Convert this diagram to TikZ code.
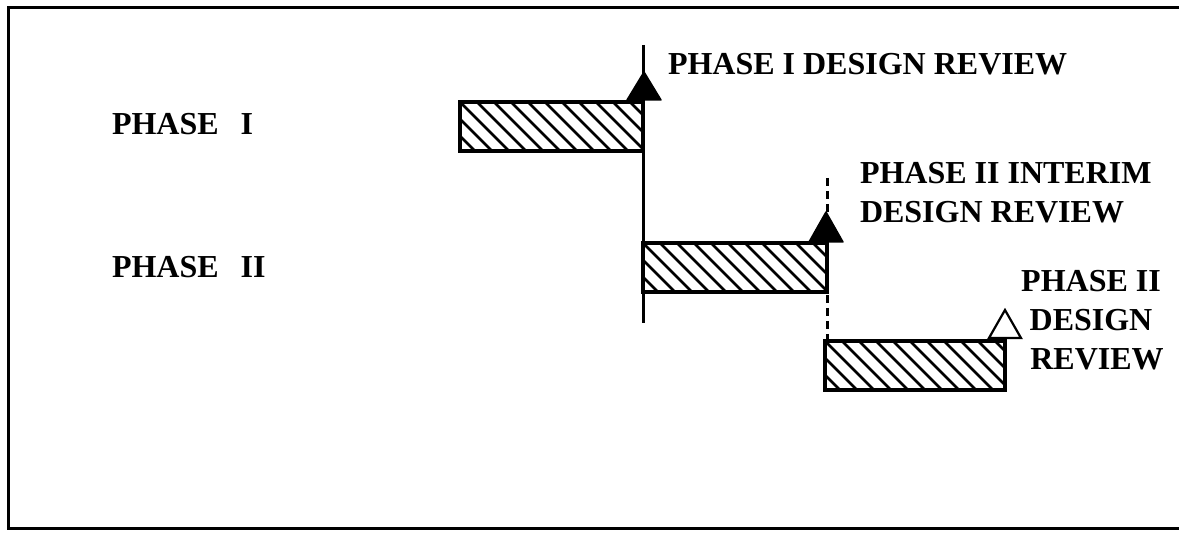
\documentclass[tikz,border=0pt]{standalone}
\usepackage{fontspec}
\setmainfont{Liberation Serif}
\begin{document}
\begin{tikzpicture}[x=1pt,y=-1pt,
  lbl/.style={font=\bfseries\fontsize{32}{39}\selectfont, inner sep=0pt, outer sep=0pt},
  hatchbar/.style={draw, line width=3.5pt, inner sep=0pt, outer sep=0pt,
    anchor=north west, minimum height=49pt,
    path picture={
      \foreach \k in {-4,...,12}
        \draw[line width=2.8pt]
          ([xshift=\k*17pt]path picture bounding box.north west) -- ++(70,70);
    }},
  mileline/.style={line width=3pt},
  solidtri/.style={fill=black, draw=black, line width=1.5pt, line join=round},
  opentri/.style={fill=white, draw=black, line width=2.2pt, line join=miter},
  frame/.style={line width=3pt}]
  \useasboundingbox (0,0) rectangle (1179,537);
  \fill[white] (0,0) rectangle (1179,537);

  % outer frame (open on the right)
  \draw[frame] (1179,8) -- (8,8) -- (8,528) -- (1179,528);

  % phase labels
  \node[lbl, anchor=base west] (ph1) at (112,135) {PHASE\hspace{22pt}I};
  \node[lbl, anchor=base west] (ph2) at (112,278) {PHASE\hspace{22pt}II};

  % schedule bars
  \node[hatchbar, minimum width=183pt] (bar1) at (460,102) {};
  \node[hatchbar, minimum width=184pt] (bar2) at (643,243) {};
  \node[hatchbar, minimum width=180pt] (bar3) at (825,341) {};

  % milestone lines
  \coordinate (m1top) at (643,45);
  \coordinate (m1bot) at (643,323);
  \draw[mileline] (m1top) -- (m1bot);
  \coordinate (m2top) at (827,178);
  \draw[mileline, dash pattern=on 8pt off 5pt] (m2top) -- (m2top |- bar3.north);

  % review markers
  \coordinate (t1) at (644,100);
  \coordinate (t2) at (826,242);
  \coordinate (t3) at (1005,338);
  \draw[solidtri] (t1) ++(-17,0) -- ++(17,-28) -- ++(17,28) -- cycle;
  \draw[solidtri] (t2) ++(-17,0) -- ++(17,-30) -- ++(17,30) -- cycle;
  \draw[opentri] (t3) ++(-16,0) -- ++(16,-28) -- ++(16,28) -- cycle;

  % review labels
  \node[lbl, anchor=base west] (rev1) at (668,75) {PHASE I DESIGN REVIEW};
  \node[lbl, anchor=north west, align=left] (rev2) at (860,162)
    {PHASE II INTERIM\\DESIGN REVIEW};
  \node[lbl, anchor=north, align=center] (rev3) at (1091,270)
    {PHASE II\\DESIGN\\\hspace*{12pt}REVIEW};
\end{tikzpicture}
\end{document}
